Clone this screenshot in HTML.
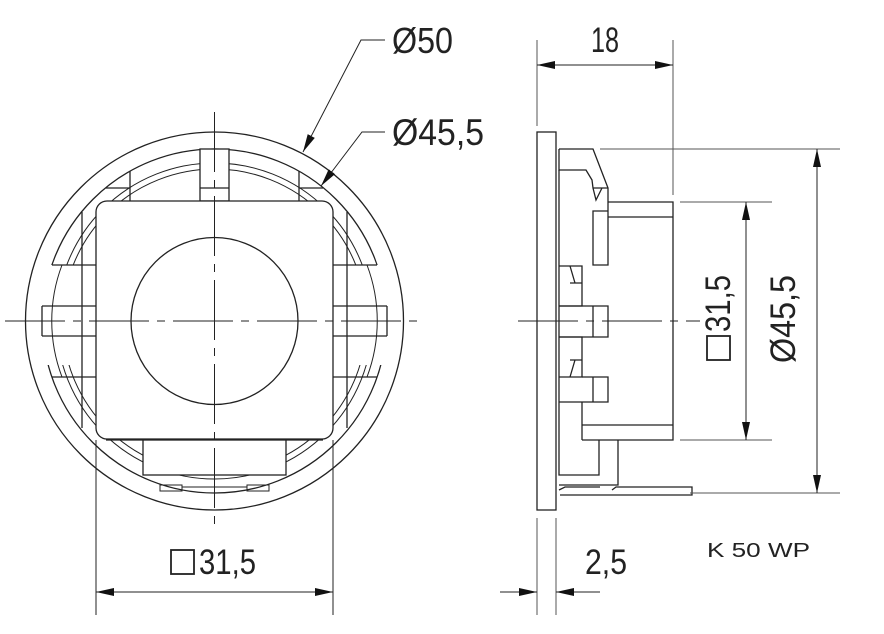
<!DOCTYPE html>
<html><head><meta charset="utf-8"><style>html,body{margin:0;padding:0;background:#fff}svg{display:block}</style></head>
<body>
<svg width="884" height="634" viewBox="0 0 884 634" xmlns="http://www.w3.org/2000/svg" font-family="Liberation Sans, DejaVu Sans, sans-serif" fill="none" stroke="#222" stroke-width="1.3">
<defs>
<marker id="a" viewBox="0 0 18 8" refX="18" refY="4" markerWidth="18" markerHeight="8" markerUnits="userSpaceOnUse" orient="auto-start-reverse"><path d="M0,0 L18,4 L0,8 Z" fill="#111" stroke="none"/></marker>
</defs>
<circle cx="214.5" cy="321" r="189"/>
<circle cx="214.5" cy="321" r="172"/>
<circle cx="214.5" cy="321" r="158" stroke-width="1"/>
<circle cx="214.5" cy="321" r="152" stroke-width="1"/>
<rect x="200" y="149" width="29" height="52" fill="#fff"/>
<line x1="200" y1="188" x2="229" y2="188"/>
<path d="M130,171 V201 M299,171 V201" />
<path d="M106,188 H130 M299,188 H323"/>
<rect x="42" y="265" width="54" height="100" fill="#fff" stroke="none"/>
<rect x="333" y="265" width="54" height="100" fill="#fff" stroke="none"/>
<path d="M52,265 H96 M42,306 H96 M42,336 H96 M52,377 H96 M82,212 V428 M42,306 V336"/>
<path d="M333,265 H377 M333,306 H387 M333,336 H387 M333,377 H377 M347,212 V428 M387,306 V336"/>
<path d="M62,265 A158,158 0 0 0 62,377 M367,265 A158,158 0 0 1 367,377" stroke-width="1"/>
<rect x="143" y="440" width="143" height="35" fill="#fff"/>
<path d="M106,440 H143 M286,440 H323"/>
<rect x="160" y="485" width="22" height="6" stroke-width="1"/>
<rect x="247" y="485" width="22" height="6" stroke-width="1"/>
<line x1="182" y1="487" x2="247" y2="487" stroke-width="1"/>
<rect x="96" y="201" width="237" height="238" rx="11" fill="#fff"/>
<circle cx="214.5" cy="321" r="83.5"/>
<path d="M214.5,112 V530 M5,321 H425" stroke-width="1" stroke-dasharray="60,8,8,8"/>
<path d="M96,440 V615 M333,440 V615" stroke-width="1"/>
<line x1="96" y1="592" x2="333" y2="592" stroke-width="1" marker-start="url(#a)" marker-end="url(#a)"/>
<rect x="171" y="550" width="23" height="24" stroke-width="1.8"/>
<text x="199" y="574" font-size="35" fill="#222" stroke="none" textLength="57" lengthAdjust="spacingAndGlyphs">31,5</text>
<path d="M303,152 L361,40 H385" stroke-width="1" marker-start="url(#a)"/>
<path d="M321,186 L362,132 H385" stroke-width="1" marker-start="url(#a)"/>
<text x="392" y="53" font-size="36" fill="#222" stroke="none" textLength="61" lengthAdjust="spacingAndGlyphs">Ø50</text>
<text x="392" y="145" font-size="37" fill="#222" stroke="none" textLength="92" lengthAdjust="spacingAndGlyphs">Ø45,5</text>
<rect x="537" y="132" width="19" height="378"/>
<path d="M559,149 H593 L608,188 V265 H593 V211 H608 M559,149 V170 H586 L592,180 L593,188 H608 M593,188 L596,200 L602,188"/>
<path d="M608,202 H673 V440 H582 M608,217 H673 M582,425 H673"/>
<path d="M559,266 H582 V306 H559 M570,283 H582 M570,266 L575,283"/>
<path d="M559,306 H593 V337 H608 V306 H593 M559,337 H593"/>
<path d="M559,337 H582 V377 H559 M570,360 H582 M570,377 L575,360"/>
<path d="M582,377 H608 V402 H593 V377 M559,402 H593 M559,170 V475 H599 V440 M559,485 H618 V440 M559,490 L565,487 H600 M612,490 L616,487 H692 V495 H560"/>
<path d="M582,402 V440"/>
<path d="M518,321 H700" stroke-width="1" stroke-dasharray="60,8,8,8"/>
<g stroke-width="1" stroke="#555">
<path d="M600,149 H840 M680,202 H772 M680,440 H772 M690,493 H840"/>
<path d="M537,40 V126 M673,40 V195 M537,518 V615 M556,518 V615"/>
</g>
<line x1="537" y1="65" x2="673" y2="65" stroke-width="1" marker-start="url(#a)" marker-end="url(#a)"/>
<text x="591" y="52" font-size="35" fill="#222" stroke="none" textLength="28" lengthAdjust="spacingAndGlyphs">18</text>
<line x1="746" y1="202" x2="746" y2="440" stroke-width="1" marker-start="url(#a)" marker-end="url(#a)"/>
<line x1="817" y1="149" x2="817" y2="493" stroke-width="1" marker-start="url(#a)" marker-end="url(#a)"/>
<rect x="707" y="336" width="23" height="24" stroke-width="1.8"/>
<text transform="translate(730,332) rotate(-90)" font-size="35" fill="#222" stroke="none" textLength="57" lengthAdjust="spacingAndGlyphs">31,5</text>
<text transform="translate(795,363) rotate(-90)" font-size="35" fill="#222" stroke="none" textLength="88" lengthAdjust="spacingAndGlyphs">Ø45,5</text>
<line x1="500" y1="592" x2="537" y2="592" stroke-width="1" marker-end="url(#a)"/>
<line x1="600" y1="592" x2="556" y2="592" stroke-width="1" marker-end="url(#a)"/>
<text x="585" y="574" font-size="35" fill="#222" stroke="none" textLength="42" lengthAdjust="spacingAndGlyphs">2,5</text>
<text x="707" y="557" font-size="20" fill="#222" stroke="none" textLength="103" lengthAdjust="spacingAndGlyphs">K 50 WP</text>
</svg>
</body></html>
